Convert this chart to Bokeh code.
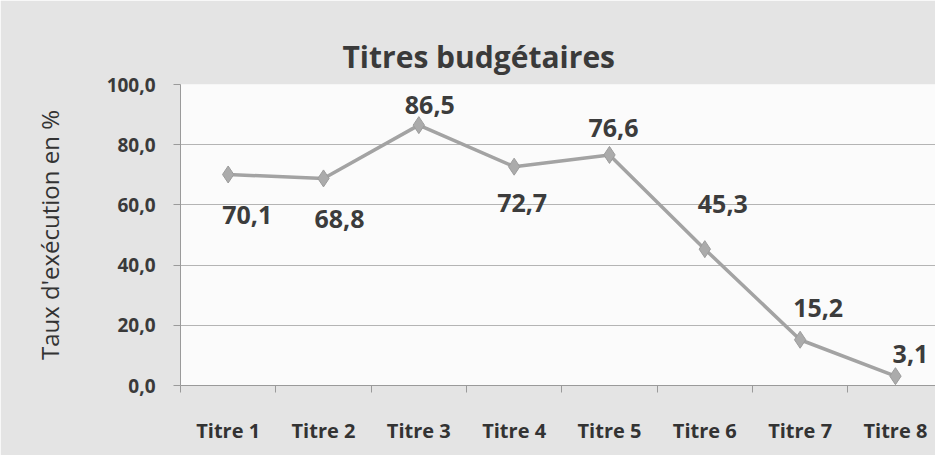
from bokeh.plotting import figure
from bokeh.models import ColumnDataSource, FixedTicker, Range1d
from bokeh.core.properties import value
from bokeh.embed import file_html
from bokeh.resources import INLINE

# ---- data ----
categories = ["Titre 1", "Titre 2", "Titre 3", "Titre 4", "Titre 5", "Titre 6", "Titre 7", "Titre 8"]
taux = [70.1, 68.8, 86.5, 72.7, 76.6, 45.3, 15.2, 3.1]
y_ticks = [0, 20, 40, 60, 80, 100]
y_tick_labels = ["0,0", "20,0", "40,0", "60,0", "80,0", "100,0"]

# ---- label placement (style, screen px) ----
label_dx = [19, 16, 11, 8, 4, 18, 18, 15]
label_dy = [41, 41, -20, 36, -27, -45, -32, -22]

FONT = "Open Sans"
xs = list(range(len(categories)))
src = ColumnDataSource(dict(
    x=xs, y=taux,
    txt=[f"{v:.1f}".replace(".", ",") for v in taux],
    dx=label_dx, dy=label_dy,
))

p = figure(width=935, height=455, output_backend="svg", toolbar_location=None,
           x_range=Range1d(-0.5, 7.42), y_range=Range1d(0, 100),
           min_border_left=180, min_border_right=0, min_border_top=84, min_border_bottom=70)

p.background_fill_color = "#fbfbfb"
p.border_fill_color = "#e4e4e4"
p.outline_line_color = None

# title
p.title.text = "Titres  budgétaires"
p.title.text_font = FONT
p.title.text_font_size = "30px"
p.title.text_font_style = "bold"
p.title.text_color = "#3a3a3a"
p.title.align = "left"
p.title.offset = 162
p.title.standoff = 15

# grid
p.xgrid.grid_line_color = None
p.ygrid.grid_line_color = "#b4b4b4"
p.ygrid.grid_line_width = 1
p.ygrid.ticker = FixedTicker(ticks=y_ticks)

# y axis
p.yaxis.ticker = FixedTicker(ticks=y_ticks)
p.yaxis.major_label_overrides = {t: l for t, l in zip(y_ticks, y_tick_labels)}
p.yaxis.axis_label = "Taux d'exécution en %"
p.yaxis.axis_label_text_font = FONT
p.yaxis.axis_label_text_font_size = "24px"
p.yaxis.axis_label_text_font_style = "normal"
p.yaxis.axis_label_text_color = "#333333"
p.yaxis.axis_label_standoff = 38
p.yaxis.major_label_text_font = FONT
p.yaxis.major_label_text_font_size = "19px"
p.yaxis.major_label_text_font_style = "bold"
p.yaxis.major_label_text_color = "#3a3a3a"
p.yaxis.major_label_standoff = 18
p.yaxis.major_tick_out = 7
p.yaxis.major_tick_in = 0
p.yaxis.minor_tick_line_color = None
p.yaxis.axis_line_color = "#9a9a9a"
p.yaxis.major_tick_line_color = "#9a9a9a"

# x axis
p.xaxis.ticker = FixedTicker(ticks=xs, minor_ticks=[i - 0.5 for i in range(len(categories) + 1)])
p.xaxis.major_label_overrides = {i: c for i, c in enumerate(categories)}
p.xaxis.major_label_text_font = FONT
p.xaxis.major_label_text_font_size = "20px"
p.xaxis.major_label_text_font_style = "bold"
p.xaxis.major_label_text_color = "#333333"
p.xaxis.major_label_standoff = 24
p.xaxis.major_tick_line_color = None
p.xaxis.minor_tick_out = 7
p.xaxis.minor_tick_in = 0
p.xaxis.minor_tick_line_color = "#9a9a9a"
p.xaxis.axis_line_color = "#9a9a9a"

# series
p.line("x", "y", source=src, line_color="#a3a3a3", line_width=3.5)
p.scatter("x", "y", source=src, marker="diamond", size=17,
          fill_color="#ababab", line_color="#9c9c9c", line_width=1)

p.text("x", "y", text="txt", source=src, x_offset="dx", y_offset="dy",
       text_align="center", text_baseline="middle",
       text_font=value(FONT), text_font_size="25px", text_font_style="bold",
       text_color="#3c3c3c")

open("out.html", "w").write(file_html(p, INLINE))
